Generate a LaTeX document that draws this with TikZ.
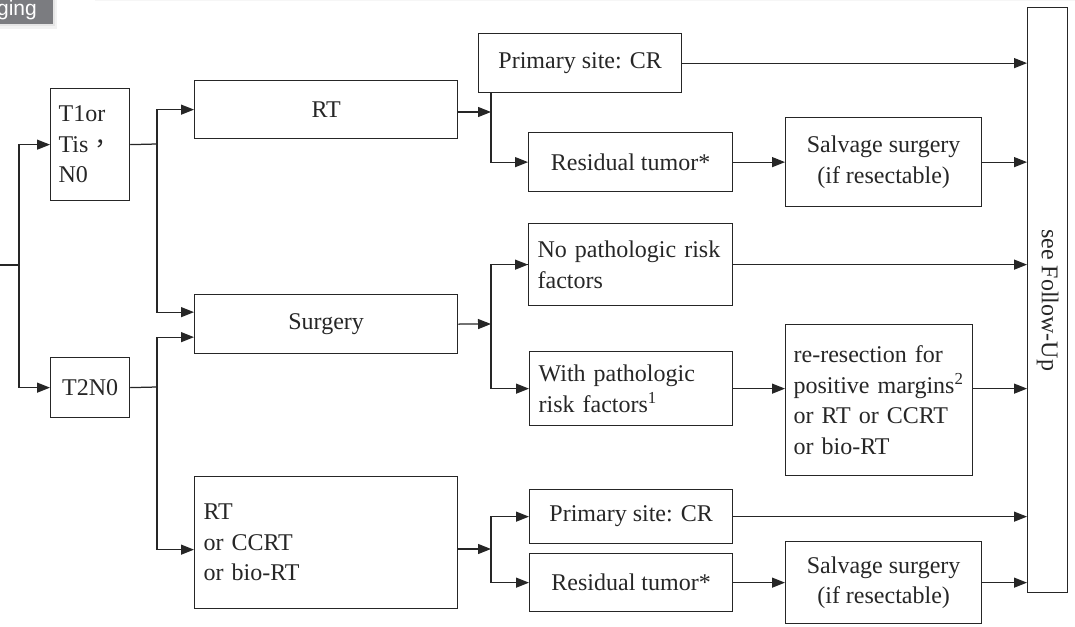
\documentclass[tikz,border=0pt]{standalone}
\usepackage{fontspec}
\setmainfont{Liberation Serif}
\newfontfamily\tabfont{Liberation Sans}
\newfontfamily\cjk{Noto Sans CJK TC}
\usetikzlibrary{arrows.meta,calc}

\definecolor{ink}{HTML}{262626}
\definecolor{tabgray}{HTML}{7B7C80}

\tikzset{
  box/.style={draw=ink, line width=1.25pt, rectangle, inner sep=0pt,
              font=\fontsize{24}{30.5}\selectfont, text=ink, align=center},
  lbox/.style={box, align=left},
  link/.style={draw=ink, line width=1.25pt},
  arr/.style={link, -{Triangle[length=13pt,width=10pt]}},
}

% box by its corners: name, x1, y1, x2, y2, style, text
\newcommand\boxat[7]{%
  \node[#6, anchor=north west, minimum width=#4pt-#2pt, minimum height=#5pt-#3pt]
    (#1) at (#2,#3) {#7};}
% left-aligned box: name, x1, y1, x2, y2, left padding, text
\newcommand\lboxat[7]{%
  \node[lbox, anchor=north west, minimum width=#4pt-#2pt, minimum height=#5pt-#3pt,
        inner xsep=#6pt, text width=#4pt-#2pt-2*#6pt]
    (#1) at (#2,#3) {#7};}

\begin{document}
\begin{tikzpicture}[x=1pt, y=-1pt]
\useasboundingbox (0,0) rectangle (1075,626);

% section tab in the corner
\fill[gray!10] (0,0) rectangle (57,29);
\fill[gray!20] (0,0) rectangle (55,26);
\begin{scope}
  \clip (0,0) rectangle (53,24);
  \fill[tabgray] (0,0) rectangle (53,24);
  \node[anchor=base east, inner sep=0pt, text=white,
        font=\tabfont\fontsize{21}{21}\selectfont] (tab) at (37,16) {Staging};
\end{scope}
\draw[gray!7, line width=1.5pt] (95,0.7) -- (1075,0.7);

% stage
\lboxat{t1}{50}{88}{129}{200}{8}{T1or\\Tis{\cjk，}\\N0}
\boxat{t2}{50}{357}{129}{417}{box}{T2N0}

% primary treatment
\boxat{rt}{194}{80}{457}{138}{box}{RT}
\boxat{surg}{194}{294}{457}{353}{box}{Surgery}
\lboxat{bot}{194}{476}{457}{608}{9}{RT\\or CCRT\\or bio-RT}

% response / pathology
\boxat{pcr1}{478}{33}{681}{92}{box}{Primary site: CR}
\boxat{res1}{528}{132}{732}{191}{box}{Residual tumor*}
\lboxat{nop}{528}{223}{732}{305}{9}{No pathologic risk\\factors}
\lboxat{withp}{529}{351}{732}{425}{9}{With pathologic\\risk factors\textsuperscript{1}}
\boxat{pcr2}{529}{489}{732}{543}{box}{Primary site: CR}
\boxat{res2}{529}{553}{732}{611}{box}{Residual tumor*}

% further treatment
\boxat{sal1}{785}{117}{981}{206}{box}{Salvage surgery\\(if resectable)}
\lboxat{rer}{785}{324}{972}{475}{8}{re-resection for\\positive margins\textsuperscript{2}\\or RT or CCRT\\or bio-RT}
\boxat{sal2}{785}{541}{981}{623}{box}{Salvage surgery\\(if resectable)}

% follow-up column
\node[box, anchor=north west, minimum width=40pt, minimum height=585pt] (fu) at (1027,7) {};
\node[rotate=-90, font=\fontsize{24}{30}\selectfont, text=ink, inner sep=0pt] (futext) at (fu.center) {see Follow-Up};

% junction points
\coordinate (in) at (0,265);
\coordinate (j0) at (19,265);
\coordinate (j1) at (157,144);
\coordinate (j2) at (157,387);
\coordinate (j3) at (491,112);
\coordinate (j4) at (491,324);
\coordinate (j5) at (491,549);

% stage split
\draw[link] (in) -- (j0);
\draw[arr] (j0) |- (t1.west);
\draw[arr] (j0) |- (t2.west);

% stage to treatment
\draw[link] (t1.east) -- (j1);
\draw[arr] (j1) |- (rt.west);
\draw[arr] (j1) |- ([yshift=12pt]surg.west);
\draw[link] (t2.east) -- (j2);
\draw[arr] (j2) |- ([yshift=-13pt]surg.west);
\draw[arr] (j2) |- ([yshift=-7pt]bot.west);

% after RT
\draw[arr] (rt.east |- j3) -- (j3);
\draw[link] (j3 |- pcr1.south) -- (j3);
\draw[arr] (j3) |- (res1.west);
\draw[arr] (pcr1.east) -- (pcr1.east -| fu.west);
\draw[arr] (res1.east) -- (sal1.west);
\draw[arr] (sal1.east) -- (sal1.east -| fu.west);

% after surgery
\draw[arr] (surg.east) -- (j4);
\draw[link] (j4) |- (nop.west);
\draw[arr] (j4 |- nop.west) -- (nop.west);
\draw[arr] (j4) |- (withp.west);
\draw[arr] (nop.east) -- (nop.east -| fu.west);
\draw[arr] (withp.east) -- (withp.east -| rer.west);
\draw[arr] (rer.east |- withp.east) -- (withp.east -| fu.west);

% after RT / CCRT / bio-RT
\draw[arr] (bot.east |- j5) -- (j5);
\draw[arr] (j5) |- (pcr2.west);
\draw[arr] (j5) |- (res2.west);
\draw[arr] (pcr2.east) -- (pcr2.east -| fu.west);
\draw[arr] (res2.east) -- (sal2.west);
\draw[arr] (sal2.east) -- (sal2.east -| fu.west);
\end{tikzpicture}
\end{document}
